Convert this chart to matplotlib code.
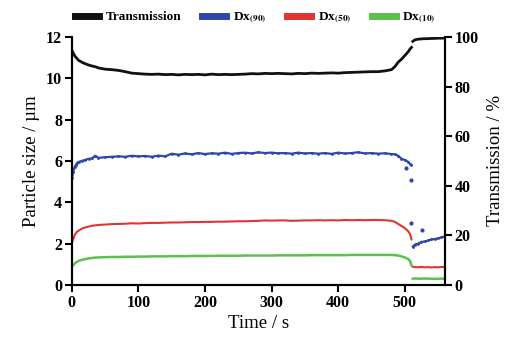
"""
Particle size (Dx10/50/90) and transmission vs time, single run.
Left axis: particle size in um, right axis: transmission in %.
"""

import matplotlib
matplotlib.use("Agg")
import matplotlib.pyplot as plt
from matplotlib.lines import Line2D

plt.rcParams["font.family"] = ["Liberation Serif", "DejaVu Serif"]
plt.rcParams["mathtext.fontset"] = "stix"

C_TR = "#111111"
C_90 = "#2f46a8"
C_50 = "#e03434"
C_10 = "#5dc04c"

# ---- data --------------------------------------------------------------
# main measurement window (s)
t_main = [0, 2, 4, 6, 8, 10, 15, 20, 25, 30, 35, 40,
          50, 60, 70, 80, 90, 100, 110, 120, 130, 140, 150, 160, 170, 180,
          190, 200, 210, 220, 230, 240, 250, 260, 270, 280, 290, 300, 310,
          320, 330, 340, 350, 360, 370, 380, 390, 400, 410, 420, 430, 440,
          450, 460, 470, 480,
          485, 490, 495, 500, 505, 508, 510]

dx90_main = [5.15, 5.45, 5.70, 5.80, 5.90, 5.95, 6.00, 6.05, 6.10, 6.12, 6.25, 6.15,
             6.18, 6.20, 6.22, 6.20, 6.25, 6.22, 6.24, 6.20, 6.26, 6.22, 6.35, 6.30,
             6.36, 6.32, 6.38, 6.33, 6.37, 6.35, 6.40, 6.34, 6.38, 6.40, 6.36, 6.42,
             6.38, 6.40, 6.37, 6.38, 6.35, 6.40, 6.36, 6.38, 6.35, 6.38, 6.34, 6.40,
             6.36, 6.38, 6.42, 6.36, 6.38, 6.35, 6.37, 6.33,
             6.32, 6.25, 6.10, 6.05, 5.95, 5.85, 5.80]

dx50_main = [2.05, 2.20, 2.40, 2.50, 2.58, 2.62, 2.72, 2.78, 2.82, 2.86, 2.88, 2.90,
             2.92, 2.94, 2.95, 2.96, 2.98, 2.97, 2.99, 3.00, 3.00, 3.01, 3.02, 3.02,
             3.03, 3.04, 3.04, 3.05, 3.05, 3.06, 3.06, 3.07, 3.08, 3.08, 3.09, 3.10,
             3.12, 3.11, 3.12, 3.12, 3.10, 3.11, 3.12, 3.12, 3.13, 3.12, 3.13, 3.12,
             3.14, 3.13, 3.14, 3.13, 3.14, 3.14, 3.13, 3.10,
             3.05, 2.95, 2.85, 2.75, 2.60, 2.45, 2.20]

dx10_main = [0.88, 0.95, 1.02, 1.08, 1.12, 1.16, 1.21, 1.25, 1.28, 1.30, 1.32, 1.33,
             1.34, 1.35, 1.35, 1.36, 1.36, 1.37, 1.37, 1.38, 1.38, 1.38, 1.39, 1.39,
             1.39, 1.40, 1.40, 1.40, 1.40, 1.41, 1.41, 1.41, 1.41, 1.42, 1.42, 1.42,
             1.42, 1.42, 1.43, 1.43, 1.43, 1.43, 1.43, 1.44, 1.44, 1.44, 1.44, 1.44,
             1.44, 1.45, 1.45, 1.45, 1.45, 1.45, 1.45, 1.45,
             1.44, 1.42, 1.38, 1.33, 1.25, 1.15, 0.95]

trans_main = [94.5, 93.5, 92.5, 91.8, 91.2, 90.6, 89.8, 89.2, 88.7, 88.3, 88.0, 87.5,
              87.0, 86.8, 86.5, 86.0, 85.4, 85.2, 85.0, 84.9, 85.0, 84.8, 84.9, 84.7,
              84.9, 84.8, 84.9, 84.7, 85.0, 84.8, 84.9, 84.8, 84.9, 85.0, 85.2, 85.1,
              85.3, 85.2, 85.3, 85.2, 85.1, 85.3, 85.2, 85.4, 85.3, 85.4, 85.5, 85.4,
              85.6, 85.7, 85.8, 85.9, 86.0, 86.0, 86.3, 86.8,
              88.0, 89.8, 91.0, 92.5, 94.0, 95.2, 95.8]

# after the drop (s)
t_tail = [512, 515, 520, 525, 530, 535, 540, 545, 550, 555, 560]
dx90_tail = [1.85, 1.95, 2.00, 2.08, 2.10, 2.15, 2.20, 2.22, 2.25, 2.30, 2.35]
dx50_tail = [0.88, 0.86, 0.85, 0.87, 0.85, 0.86, 0.84, 0.86, 0.85, 0.87, 0.86]
dx10_tail = [0.30, 0.31, 0.30, 0.30, 0.31, 0.30, 0.30, 0.29, 0.30, 0.30, 0.30]
trans_tail = [98.2, 98.8, 99.1, 99.2, 99.3, 99.3, 99.4, 99.4, 99.5, 99.5, 99.6]

# stray Dx90 points during the transition
t_stray = [502, 510, 510, 526]
dx90_stray = [5.64, 5.08, 3.00, 2.66]

# ---- figure --------------------------------------------------------------
fig = plt.figure(figsize=(5.06, 3.42), dpi=100)
ax = fig.add_axes([0.142, 0.167, 0.737, 0.725])
ax2 = ax.twinx()

ax.plot(t_main, dx90_main, color=C_90, lw=1.6, marker="o", ms=1.0)
ax.plot(t_tail, dx90_tail, color=C_90, lw=1.6, marker="o", ms=1.0)
ax.scatter(t_stray, dx90_stray, color=C_90, s=4, zorder=4)
ax.plot(t_main, dx50_main, color=C_50, lw=1.5)
ax.plot(t_tail, dx50_tail, color=C_50, lw=1.5)
ax.plot(t_main, dx10_main, color=C_10, lw=1.8)
ax.plot(t_tail, dx10_tail, color=C_10, lw=1.8)

ax2.plot(t_main, trans_main, color=C_TR, lw=2.0)
ax2.plot(t_tail, trans_tail, color=C_TR, lw=2.0)

ax.set_xlim(0, 560)
ax.set_ylim(0, 12)
ax2.set_ylim(0, 100)
ax.set_xticks([0, 100, 200, 300, 400, 500])
ax.set_yticks([0, 2, 4, 6, 8, 10, 12])
ax2.set_yticks([0, 20, 40, 60, 80, 100])

for a in (ax, ax2):
    a.spines["top"].set_visible(False)
    for s in a.spines.values():
        s.set_linewidth(1.5)
    a.tick_params(width=1.5, length=5, labelsize=11.5, direction="out", pad=2)
    for lab in a.get_xticklabels() + a.get_yticklabels():
        lab.set_fontweight("bold")

ax.set_xlabel("Time / s", fontsize=13.5, labelpad=3)
ax.set_ylabel("Particle size / µm", fontsize=13.5)
ax2.set_ylabel("Transmission / %", fontsize=13.5, labelpad=6)

handles = [Line2D([], [], color=c, lw=5) for c in (C_TR, C_90, C_50, C_10)]
labels = ["Transmission", r"Dx$_{\mathbf{(90)}}$",
          r"Dx$_{\mathbf{(50)}}$", r"Dx$_{\mathbf{(10)}}$"]
fig.legend(handles, labels, loc="center", bbox_to_anchor=(0.505, 0.947),
           ncol=4, frameon=False, handlelength=1.8, handletextpad=0.5,
           columnspacing=1.6, prop={"size": 9.5, "weight": "bold"})

fig.savefig("out.png", dpi=100)
